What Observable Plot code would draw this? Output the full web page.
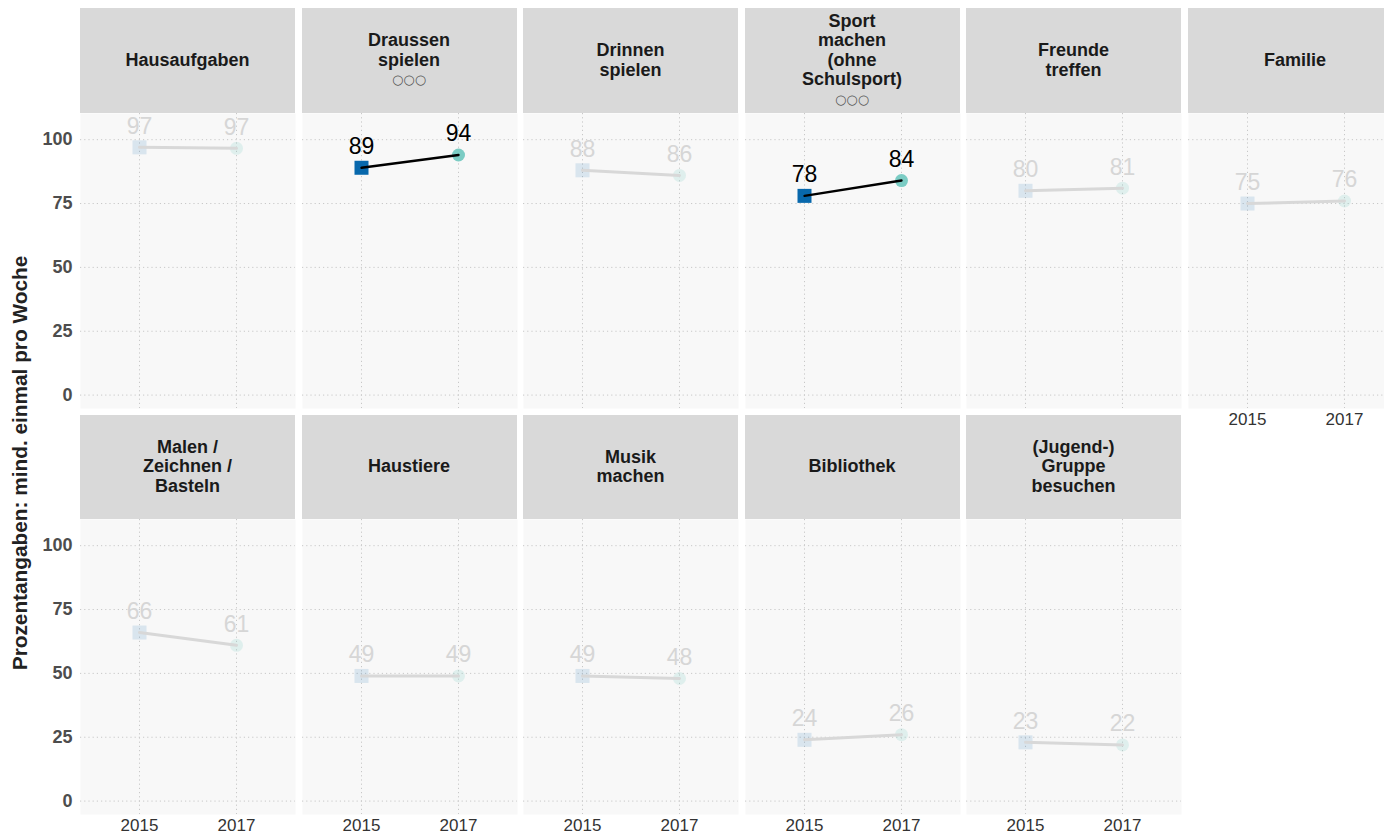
<!DOCTYPE html>
<html>
<head>
<meta charset="utf-8">
<script src="https://cdn.jsdelivr.net/npm/d3@7"></script>
<script src="https://cdn.jsdelivr.net/npm/@observablehq/plot@0.6"></script>
<style>
  html, body { margin: 0; padding: 0; background: #ffffff; width: 1384px; height: 834px; overflow: hidden; }
  #root { position: relative; width: 1384px; height: 834px; overflow: hidden; font-family: "Liberation Sans", Arial, sans-serif; }
  .strip { position: absolute; background: #d9d9d9; display: flex; align-items: center; justify-content: center;
           text-align: center; font-weight: bold; font-size: 18px; line-height: 19.5px; color: #1a1a1a; }
  .strip .sig { font-family: "DejaVu Sans", sans-serif; font-weight: normal; font-size: 13px; color: #555; letter-spacing: 0px; }
  .panel { position: absolute; overflow: visible; }
  .panel svg { max-width: none !important; display: block; }
  .ytitle { position: absolute; left: 20px; top: 463px; transform: translate(-50%, -50%) rotate(-90deg);
            white-space: nowrap; font-weight: bold; font-size: 20.8px; color: #222; }
</style>
</head>
<body>
<div id="root"></div>
<script>
// ---- data ----
const categories = ["Hausaufgaben", "Draussen spielen", "Drinnen spielen", "Sport machen (ohne Schulsport)",
  "Freunde treffen", "Familie", "Malen / Zeichnen / Basteln", "Haustiere", "Musik machen", "Bibliothek",
  "(Jugend-) Gruppe besuchen"];
const stripLines = [
  ["Hausaufgaben"],
  ["Draussen", "spielen"],
  ["Drinnen", "spielen"],
  ["Sport", "machen", "(ohne", "Schulsport)"],
  ["Freunde", "treffen"],
  ["Familie"],
  ["Malen /", "Zeichnen /", "Basteln"],
  ["Haustiere"],
  ["Musik", "machen"],
  ["Bibliothek"],
  ["(Jugend-)", "Gruppe", "besuchen"]
];
const years = ["2015", "2017"];
const values2015 = [97, 89, 88, 78, 80, 75, 66, 49, 49, 24, 23];
const values2017 = [96.6, 94, 86, 84, 81, 76, 61, 49, 48, 26, 22];
const labels2015 = ["97", "89", "88", "78", "80", "75", "66", "49", "49", "24", "23"];
const labels2017 = ["97", "94", "86", "84", "81", "76", "61", "49", "48", "26", "22"];
const significant = [false, true, false, true, false, false, false, false, false, false, false];
const yTicks = [0, 25, 50, 75, 100];
const yTitle = "Prozentangaben: mind. einmal pro Woche";
const sigMark = "○○○";

// ---- layout ----
const colLeft = [80, 301.5, 523, 744.5, 966, 1187.5];
const panelW = 215;
const rowStripTop = [8, 415];
const rowPanelTop = [113, 519];
const panelH = 295;

const root = document.getElementById("root");

const yt = document.createElement("div");
yt.className = "ytitle";
yt.textContent = yTitle;
root.appendChild(yt);

categories.forEach((cat, i) => {
  const row = i < 6 ? 0 : 1;
  const col = i < 6 ? i : i - 6;
  const showY = col === 0;
  const showX = row === 1 || i === 5;
  const sig = significant[i];

  // strip
  const s = document.createElement("div");
  s.className = "strip";
  s.style.left = colLeft[col] + "px";
  s.style.top = rowStripTop[row] + "px";
  s.style.width = panelW + "px";
  s.style.height = (rowPanelTop[row] - rowStripTop[row]) + "px";
  let html = stripLines[i].map(l => `<div>${l}</div>`).join("");
  if (sig) html += `<div class="sig">${sigMark}</div>`;
  s.innerHTML = `<div>${html}</div>`;
  root.appendChild(s);

  const data = [
    {year: years[0], value: values2015[i], label: labels2015[i]},
    {year: years[1], value: values2017[i], label: labels2017[i]}
  ];

  const mL = showY ? 80 : 0;
  const mB = showX ? 28 : 0;
  const sqColor = "#0868ac", ciColor = "#7bccc4";

  const marks = [
    Plot.frame({fill: "#f8f8f8"}),
    Plot.gridY(yTicks, {stroke: "#c8c8c8", strokeOpacity: 1, strokeDasharray: "1.2,3", strokeWidth: 1}),
    Plot.gridX(years, {stroke: "#c8c8c8", strokeOpacity: 1, strokeDasharray: "1.2,3", strokeWidth: 1}),
    Plot.dot(data.filter(d => d.year === "2015"), {x: "year", y: "value", symbol: "square", r: 7.9, fill: sqColor, fillOpacity: sig ? 1 : 0.13, stroke: null}),
    Plot.dot(data.filter(d => d.year === "2017"), {x: "year", y: "value", symbol: "circle", r: 6.5, fill: ciColor, fillOpacity: sig ? 1 : 0.2, stroke: null}),
    Plot.line(data, {x: "year", y: "value", stroke: sig ? "#000000" : "#d8d8d8", strokeWidth: sig ? 2.4 : 3}),
    Plot.text(data, {x: "year", y: "value", text: "label", dy: -21, fontSize: 23,
      fill: sig ? "#000000" : "#d6d6d6", fontFamily: "Liberation Sans, Arial, sans-serif"})
  ];
  if (showY) marks.push(Plot.axisY(yTicks, {tickSize: 0, tickPadding: 8, fontSize: 18, fontWeight: "bold", fill: "#4d4d4d", label: null}));
  if (showX) marks.push(Plot.axisX(years, {tickSize: 0, tickPadding: 4, fontSize: 17, fill: "#333333", label: null}));

  const W = panelW + mL, H = panelH + mB;
  const chart = Plot.plot({
    width: W,
    height: H,
    marginLeft: mL, marginRight: 0, marginTop: 0, marginBottom: mB,
    x: {type: "point", domain: years, padding: 0.6, axis: null},
    y: {domain: [-5.25, 110.25], axis: null},
    style: {background: "transparent", fontFamily: "Liberation Sans, Arial, sans-serif", overflow: "visible", maxWidth: "none"},
    marks
  });
  const wrap = document.createElement("div");
  wrap.className = "panel";
  wrap.style.left = (colLeft[col] - mL) + "px";
  wrap.style.top = rowPanelTop[row] + "px";
  wrap.style.width = W + "px";
  wrap.style.height = H + "px";
  wrap.appendChild(chart);
  root.appendChild(wrap);
});
</script>
</body>
</html>
